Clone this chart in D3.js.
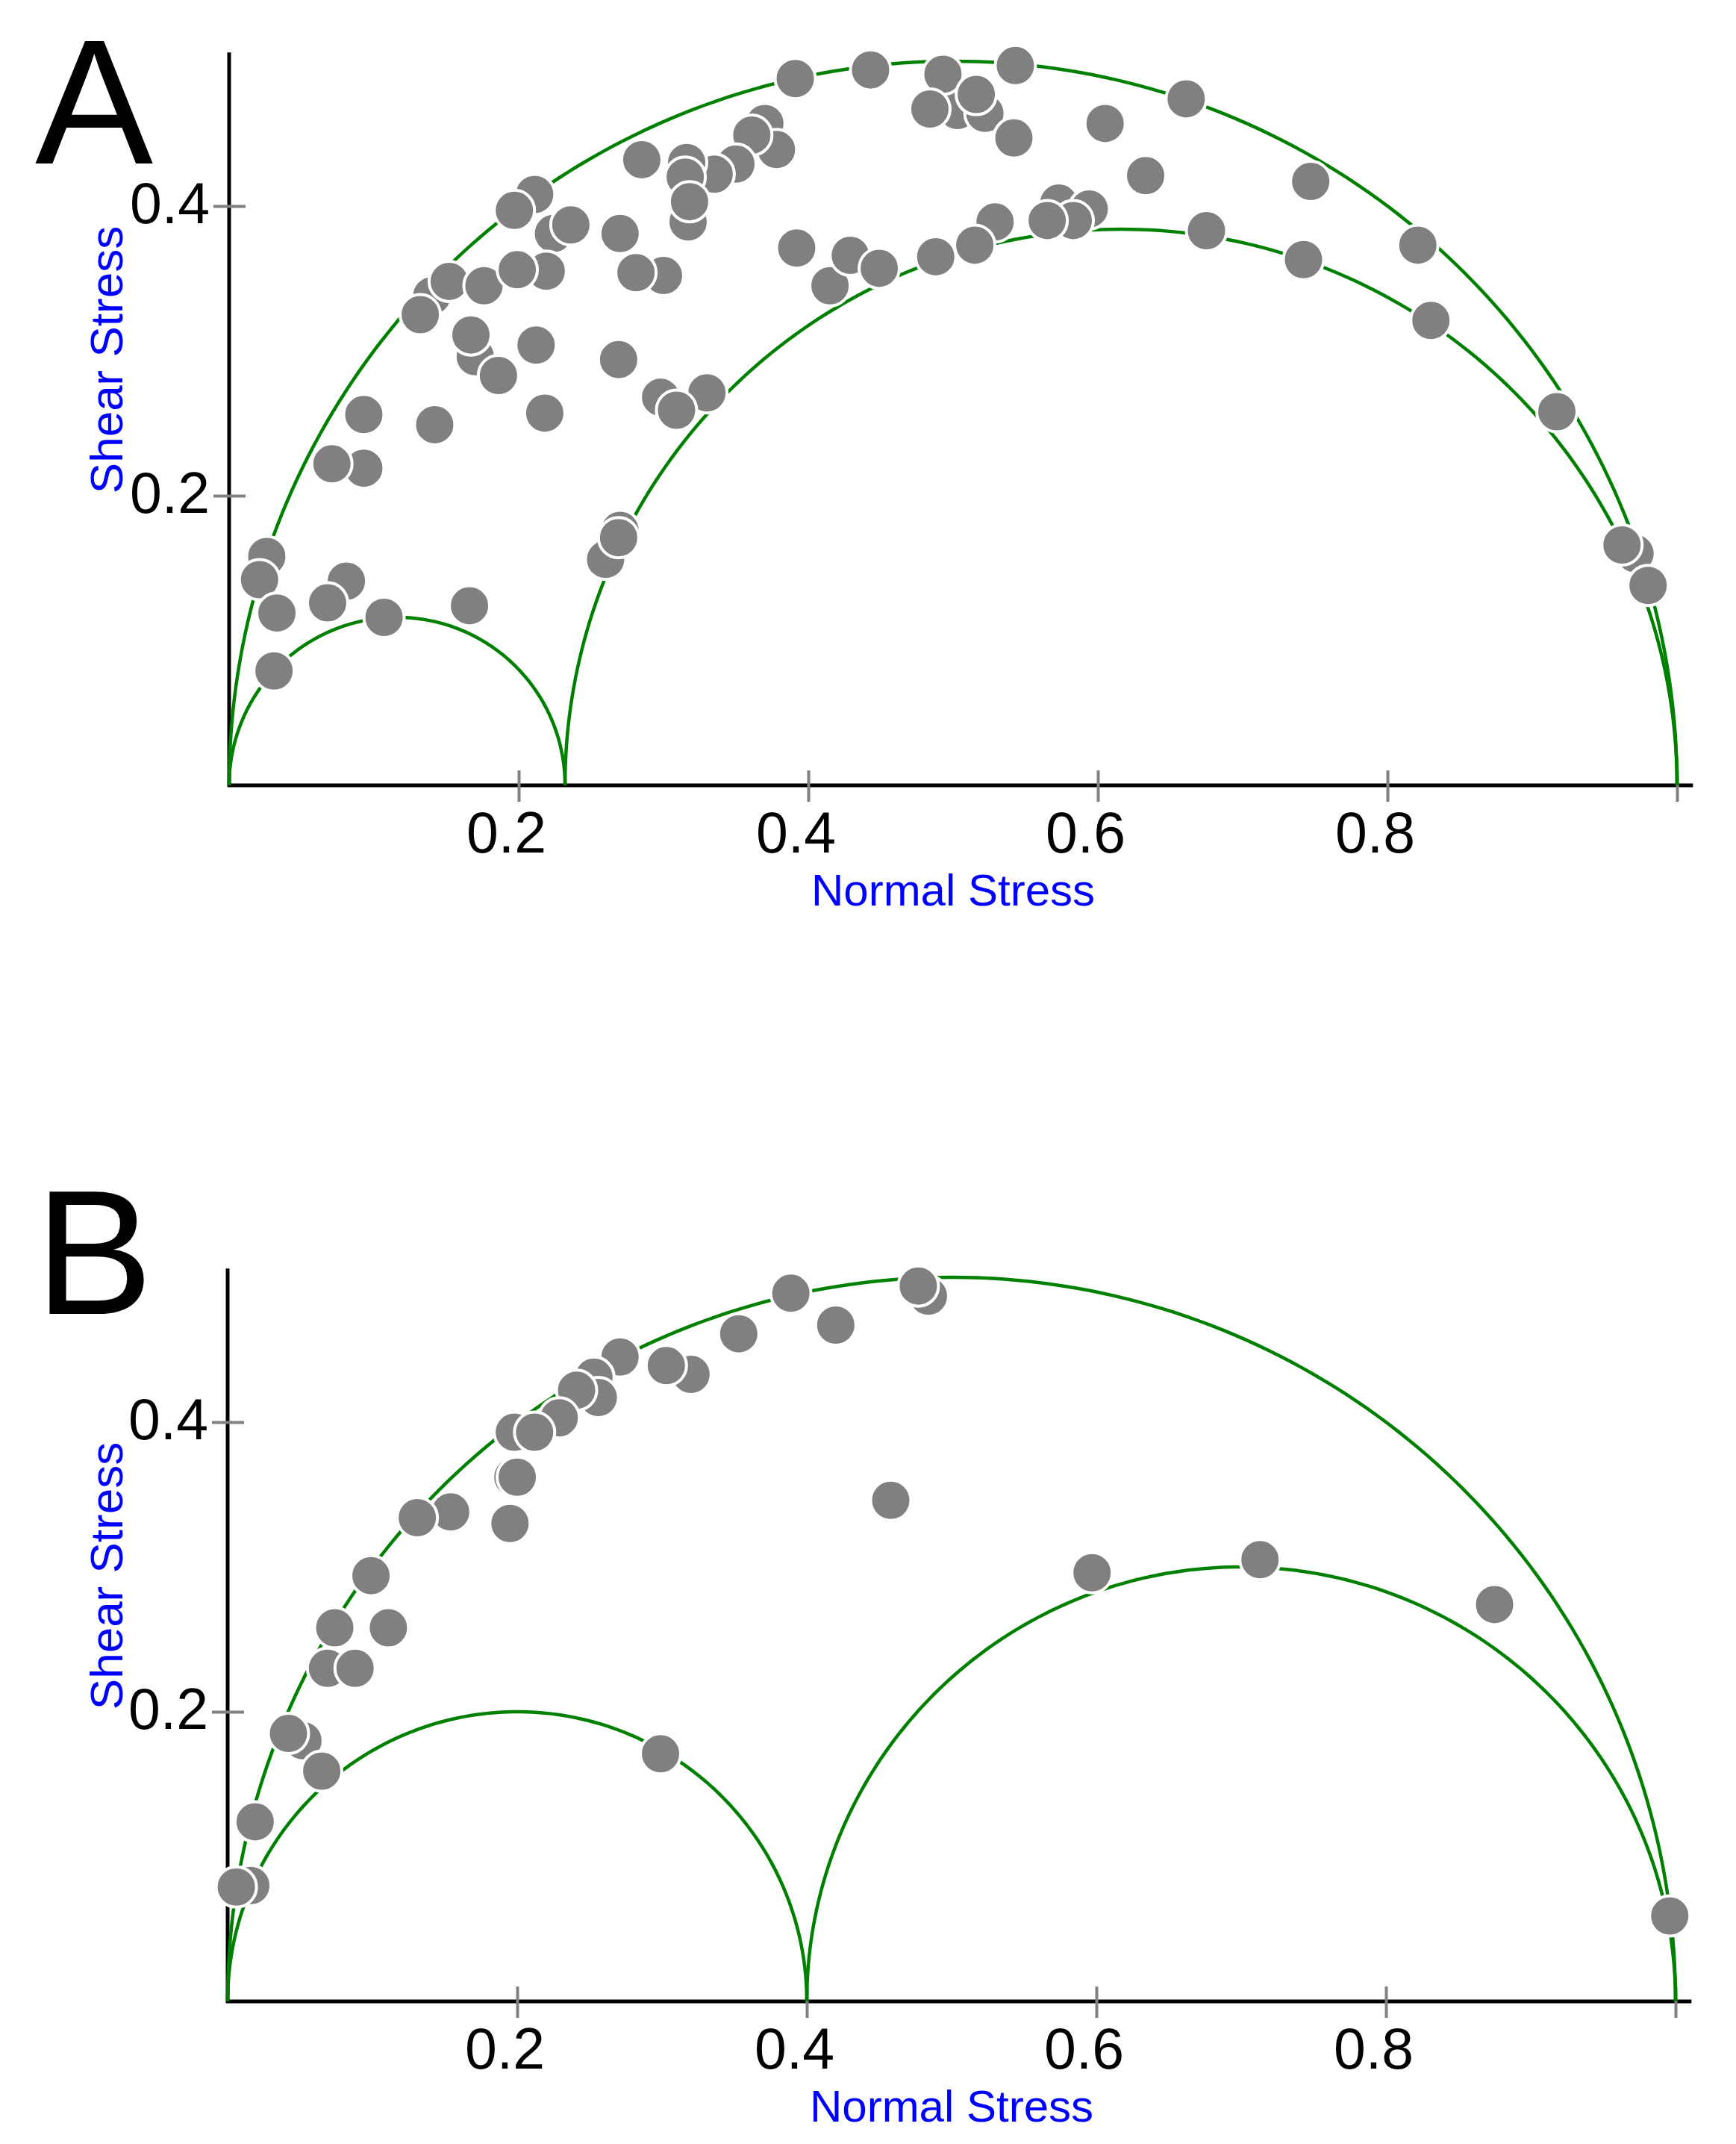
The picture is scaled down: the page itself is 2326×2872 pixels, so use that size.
<!DOCTYPE html>
<html>
<head>
<meta charset="utf-8">
<script src="https://cdn.jsdelivr.net/npm/d3@7"></script>
<style>
  body { margin: 0; background: #fff; }
  text { font-family: "Liberation Sans", Arial, sans-serif; }
</style>
</head>
<body>
<svg id="chart" width="2326" height="2872"></svg>
<script>
// tick labels
var xTicks = [0.2, 0.4, 0.6, 0.8, 1.0];
var yTicks = [0.2, 0.4];

// Mohr circles: [sigma3, sigma1] for each circle
var circlesA = [[0, 0.232], [0.232, 1], [0, 1]];
var circlesB = [[0, 0.4], [0.4, 1], [0, 1]];

// panel A points (normal stress, shear stress)
var normalA = [0.140, 0.224, 0.211, 0.197, 0.236, 0.152, 0.176, 0.132, 0.219, 0.199,
  0.170, 0.167, 0.186, 0.212, 0.218, 0.142, 0.093, 0.093, 0.071, 0.026, 0.021, 0.033,
  0.081, 0.068, 0.107, 0.166, 0.031, 0.270, 0.260, 0.269,
  0.391, 0.443, 0.503, 0.522, 0.493, 0.484, 0.516, 0.543, 0.542, 0.605, 0.633,
  0.285, 0.370, 0.378, 0.361, 0.350, 0.335, 0.316, 0.315, 0.317, 0.318,
  0.270, 0.300, 0.281, 0.392, 0.415, 0.429, 0.449, 0.488, 0.529, 0.515,
  0.573, 0.594, 0.583, 0.565, 0.269, 0.298, 0.330, 0.309,
  0.661, 0.747, 0.675, 0.742, 0.821, 0.830, 0.917, 0.971, 0.962, 0.980];
var shearA = [0.338, 0.381, 0.408, 0.397, 0.387, 0.348, 0.345, 0.325, 0.355, 0.356,
  0.296, 0.311, 0.283, 0.304, 0.257, 0.249, 0.256, 0.219, 0.222, 0.158, 0.142, 0.119,
  0.141, 0.126, 0.116, 0.124, 0.079, 0.176, 0.156, 0.171,
  0.488, 0.494, 0.466, 0.464, 0.491, 0.467, 0.477, 0.497, 0.447, 0.457, 0.421,
  0.432, 0.457, 0.439, 0.449, 0.429, 0.422, 0.430, 0.420, 0.389, 0.403,
  0.381, 0.352, 0.354, 0.371, 0.345, 0.366, 0.357, 0.365, 0.389, 0.373,
  0.402, 0.398, 0.390, 0.390, 0.294, 0.268, 0.271, 0.259,
  0.474, 0.417, 0.383, 0.363, 0.373, 0.321, 0.258, 0.160, 0.166, 0.138];

// panel B points (normal stress, shear stress)
var normalB = [0.597, 0.713, 0.875, 0.996, 0.389, 0.484, 0.477, 0.420, 0.353,
  0.320, 0.303, 0.271, 0.253, 0.256, 0.241, 0.229, 0.198, 0.212, 0.197, 0.200,
  0.195, 0.154, 0.131, 0.099, 0.074, 0.111, 0.069, 0.088, 0.052, 0.042, 0.065,
  0.019, 0.016, 0.006, 0.458, 0.299];
var shearB = [0.296, 0.305, 0.274, 0.059, 0.489, 0.487, 0.494, 0.467, 0.461,
  0.433, 0.439, 0.445, 0.431, 0.417, 0.422, 0.403, 0.393, 0.393, 0.362, 0.362,
  0.330, 0.338, 0.334, 0.294, 0.258, 0.258, 0.230, 0.230, 0.180, 0.185, 0.159,
  0.124, 0.080, 0.079, 0.346, 0.171];

var svg = d3.select("#chart");
svg.append("rect").attr("width", 2326).attr("height", 2872).attr("fill", "#fff");

function drawPanel(opt) {
    var x = d3.scaleLinear().domain([0, 1]).range([opt.left, opt.left + 1940]);
    var y = d3.scaleLinear().domain([0, 1]).range([opt.base, opt.base - 1940]);
    var g = svg.append("g");

    // panel letter
    g.append("text")
        .attr("x", 47).attr("y", opt.letterY)
        .attr("font-size", 237)
        .text(opt.letter);

    // axis lines
    g.append("line")
        .attr("x1", x(0)).attr("x2", x(0))
        .attr("y1", y(0) + 2).attr("y2", y(0.506))
        .attr("stroke", "#000").attr("stroke-width", 5);
    g.append("line")
        .attr("x1", x(0) - 2).attr("x2", x(1.011))
        .attr("y1", y(0)).attr("y2", y(0))
        .attr("stroke", "#000").attr("stroke-width", 5);

    // x ticks
    var xAxis = g.append("g")
        .attr("transform", "translate(0," + y(0) + ")")
        .call(d3.axisBottom(x).tickValues(xTicks).tickSize(22)
            .tickFormat(function (d) { return d < 1 ? d3.format(".1f")(d) : ""; }));
    xAxis.select(".domain").remove();
    xAxis.selectAll(".tick line")
        .attr("y1", -20).attr("stroke", "#808080").attr("stroke-width", 4);
    xAxis.selectAll(".tick text")
        .attr("y", 90).attr("dy", 0).attr("dx", -17)
        .attr("font-size", 77).attr("font-family", "Liberation Sans, Arial, sans-serif")
        .attr("fill", "#000");

    // y ticks
    var yAxis = g.append("g")
        .attr("transform", "translate(" + x(0) + ",0)")
        .call(d3.axisLeft(y).tickValues(yTicks).tickSize(21).tickFormat(d3.format(".1f")));
    yAxis.select(".domain").remove();
    yAxis.selectAll(".tick line")
        .attr("x2", 22).attr("x1", -21).attr("stroke", "#808080").attr("stroke-width", 4);
    yAxis.selectAll(".tick text")
        .attr("x", -26).attr("dy", 22)
        .attr("font-size", 77).attr("font-family", "Liberation Sans, Arial, sans-serif")
        .attr("fill", "#000");

    // axis titles
    g.append("text")
        .attr("x", x(0.5)).attr("y", y(0) + 161)
        .attr("text-anchor", "middle")
        .attr("font-size", 60).attr("fill", "#0000ff")
        .text("Normal Stress");
    g.append("text")
        .attr("transform", "translate(164," + (y(0) - 570) + ") rotate(-90)")
        .attr("text-anchor", "middle")
        .attr("font-size", 62).attr("fill", "#0000ff")
        .text("Shear Stress");

    // Mohr circles (upper halves)
    var angles = d3.range(0, 181, 1).map(function (a) { return a * Math.PI / 180; });
    opt.circles.forEach(function (c) {
        var centre = (c[0] + c[1]) / 2, radius = (c[1] - c[0]) / 2;
        var line = d3.line()
            .x(function (t) { return x(centre + radius * Math.cos(t)); })
            .y(function (t) { return y(radius * Math.sin(t)); });
        g.append("path")
            .attr("d", line(angles))
            .attr("fill", "none")
            .attr("stroke", "#008000")
            .attr("stroke-width", 4.5);
    });

    // stress points
    g.selectAll("circle.pt")
        .data(opt.normal.map(function (n, i) { return { n: n, s: opt.shear[i] }; }))
        .enter().append("circle")
        .attr("class", "pt")
        .attr("cx", function (d) { return x(d.n); })
        .attr("cy", function (d) { return y(d.s); })
        .attr("r", 27)
        .attr("fill", "#808080")
        .attr("stroke", "#fff")
        .attr("stroke-width", 4);
}

drawPanel({ left: 307, base: 1052, letter: "A", letterY: 219,
    circles: circlesA, normal: normalA, shear: shearA });
drawPanel({ left: 305, base: 2681, letter: "B", letterY: 1760,
    circles: circlesB, normal: normalB, shear: shearB });
</script>
</body>
</html>
